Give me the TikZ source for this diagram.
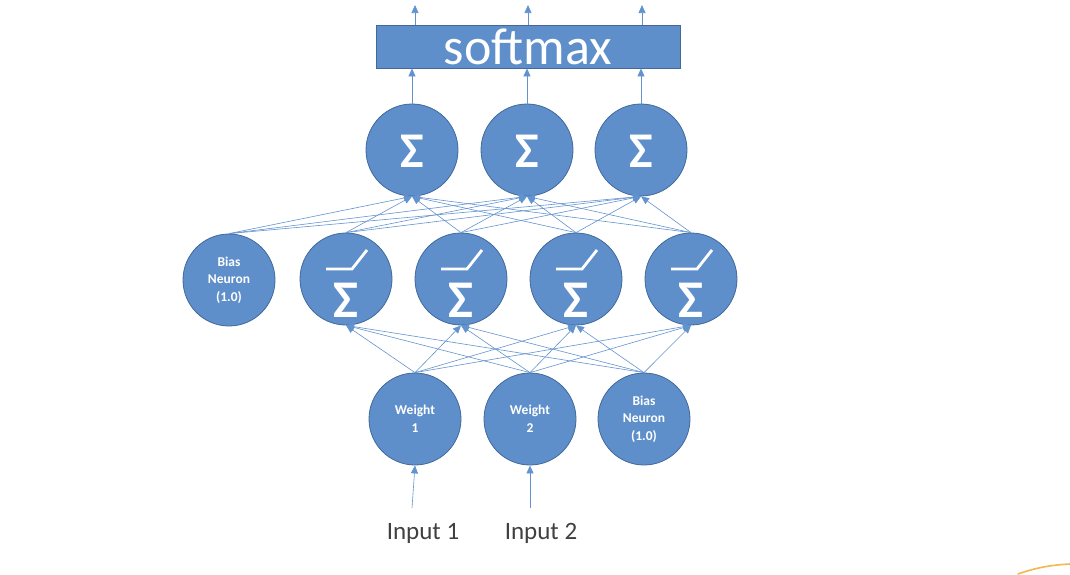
\documentclass[tikz,border=0pt]{standalone}
\usepackage{fontspec}
\setmainfont{Carlito}
\usetikzlibrary{arrows.meta}
\definecolor{nodeblue}{HTML}{5E8FCA}
\definecolor{nodeedge}{HTML}{41699A}
\definecolor{linkblue}{HTML}{6393CF}
\definecolor{labelgray}{HTML}{404040}
\definecolor{accentorange}{HTML}{F2B84B}
\begin{document}
\begin{tikzpicture}[x=1pt,y=-1pt,
  neuron/.style={circle, fill=nodeblue, draw=nodeedge, line width=0.8pt,
    minimum size=92pt, inner sep=0pt, text=white, align=center,
    font=\fontsize{13.5}{17.5}\selectfont\bfseries},
  sigma/.style={text=white, inner sep=0pt, font=\fontsize{50}{50}\selectfont\bfseries},
  relu/.style={draw=white, line width=2.8pt},
  link/.style={draw=linkblue, line width=0.6pt, -{Triangle[length=8pt,width=7pt]}},
  inputlabel/.style={text=labelgray, inner sep=0pt, anchor=base,
    font=\fontsize{25}{25}\selectfont}]
\useasboundingbox (0,0) rectangle (1070,574);

% softmax layer
\node[fill=nodeblue, draw=nodeedge, line width=0.8pt, minimum width=304pt,
  minimum height=43pt, inner sep=0pt, text=white,
  font=\fontsize{52}{52}\selectfont] (soft) at (528,46.5) {softmax};

% output summation neurons
\foreach \i/\x in {1/412,2/527,3/641}{
  \node[neuron] (s\i) at (\x,150) {};
  \node[sigma] (sg\i) at (\x,151) {Σ};
}

% hidden layer: bias plus four ReLU neurons
\node[neuron] (hb) at (229,280) {Bias\\Neuron\\(1.0)};
\foreach \i/\x in {1/346,2/461,3/576,4/691}{
  \node[neuron] (h\i) at (\x,279) {};
  \node[sigma] (hs\i) at (\x,300) {\fontsize{53}{53}\selectfont Σ};
  \draw[relu] ([shift={(-20,-10)}]h\i.center) -- ([shift={(6,-10)}]h\i.center)
    -- ([shift={(21,-29)}]h\i.center);
}

% input layer
\node[neuron] (w1) at (415,419) {Weight\\1};
\node[neuron] (w2) at (530,419) {Weight\\2};
\node[neuron] (ib) at (644,419) {Bias\\Neuron\\(1.0)};

% input labels
\node[inputlabel] (in1) at (423,539) {Input 1};
\node[inputlabel] (in2) at (541,539) {Input 2};
\coordinate (a1) at (412,508);
\coordinate (a2) at (530,508);
\draw[link] (a1) -- (w1.south);
\draw[link] (a2) -- (w2.south);

% input layer to hidden layer
\foreach \s in {w1,w2,ib}{
  \foreach \t in {h1,h2,h3,h4}{
    \draw[link] (\s.north) -- (\t.south);
  }
}

% hidden layer to output neurons
\foreach \s in {hb,h1,h2,h3,h4}{
  \foreach \t in {s1,s2,s3}{
    \draw[link] (\s.north) -- (\t.south);
  }
}

% output neurons to softmax, and softmax outputs
\foreach \i/\x in {1/415,2/528,3/642}{
  \draw[link] (s\i.north) -- (s\i.north |- soft.south);
  \coordinate (o\i) at (\x,5);
  \draw[link] (o\i |- soft.north) -- (o\i);
}

% stray accent stroke in the lower right corner
\draw[accentorange, line width=1.6pt, line cap=round]
  (1018,574) .. controls (1035,568) and (1050,565) .. (1070,564);
\end{tikzpicture}
\end{document}
